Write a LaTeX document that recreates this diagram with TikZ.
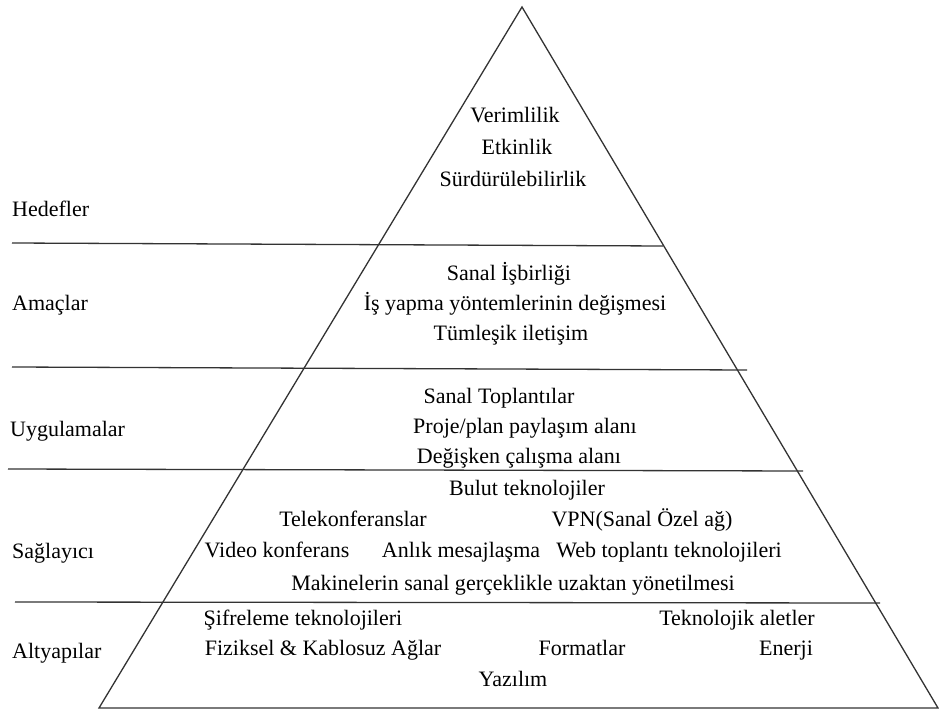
\documentclass[tikz,border=0pt]{standalone}
\usepackage{fontspec}
\setmainfont{Liberation Serif}
\newfontfamily\pyrfont{Liberation Serif}
\begin{document}
\begin{tikzpicture}[x=1pt,y=-1pt,
  edge/.style={line width=1.3pt,draw=black!80},
  sep/.style={line width=1.3pt,draw=black!80},
  txt/.style={inner sep=0pt,anchor=base,font=\pyrfont\fontsize{22}{26}\selectfont},
  lvl/.style={txt,anchor=base west}]
\useasboundingbox (0,0) rectangle (939,711);

% pyramid outline
\coordinate (apex) at (522,7);
\coordinate (bl) at (99,708);
\coordinate (br) at (938,708);
\draw[edge,line join=miter] (bl) -- (apex) -- (br) -- cycle;

% level separators reaching out to the left margin
\coordinate (s1l) at (12,243);  \coordinate (s1r) at (663,246);
\coordinate (s2l) at (12,367);  \coordinate (s2r) at (747,370);
\coordinate (s3l) at (8,469);   \coordinate (s3r) at (803,471);
\coordinate (s4l) at (15,602);  \coordinate (s4r) at (880,603);
\draw[sep] (s1l) -- (s1r);
\draw[sep] (s2l) -- (s2r);
\draw[sep] (s3l) -- (s3r);
\draw[sep] (s4l) -- (s4r);

% level names
\node[lvl] (hedef) at (12,217) {Hedefler};
\node[lvl] (amac) at (12,310) {Amaçlar};
\node[lvl] (uygul) at (10,436) {Uygulamalar};
\node[lvl] (sagla) at (12,558) {Sağlayıcı};
\node[lvl] (altya) at (12,658) {Altyapılar};

% Hedefler
\node[txt] (verim) at (515,123) {Verimlilik};
\node[txt] (etkin) at (517,155) {Etkinlik};
\node[txt] (surdur) at (513,187) {Sürdürülebilirlik};

% Amaçlar
\node[txt] (isbir) at (509,280) {Sanal İşbirliği};
\node[txt] (isyap) at (515,310) {İş yapma yöntemlerinin değişmesi};
\node[txt] (tumles) at (511,340) {Tümleşik iletişim};

% Uygulamalar
\node[txt] (toplan) at (499,403) {Sanal Toplantılar};
\node[txt] (proje) at (525,433) {Proje/plan paylaşım alanı};
\node[txt] (degis) at (519,463) {Değişken çalışma alanı};

% Sağlayıcı
\node[txt] (bulut) at (527,495) {Bulut teknolojiler};
\node[txt] (telek) at (353,526) {Telekonferanslar};
\node[txt] (vpn) at (642,526) {VPN(Sanal Özel ağ)};
\node[txt] (video) at (277,557) {Video konferans};
\node[txt] (anlik) at (461,557) {Anlık mesajlaşma};
\node[txt] (webtop) at (669,557) {Web toplantı teknolojileri};
\node[txt] (makine) at (513,590) {Makinelerin sanal gerçeklikle uzaktan yönetilmesi};

% Altyapılar
\node[txt] (sifre) at (303,625) {Şifreleme teknolojileri};
\node[txt] (teknal) at (737,625) {Teknolojik aletler};
\node[txt] (fizik) at (323,655) {Fiziksel \& Kablosuz Ağlar};
\node[txt] (format) at (582,655) {Formatlar};
\node[txt] (enerji) at (786,655) {Enerji};
\node[txt] (yazil) at (513,686) {Yazılım};
\end{tikzpicture}
\end{document}
